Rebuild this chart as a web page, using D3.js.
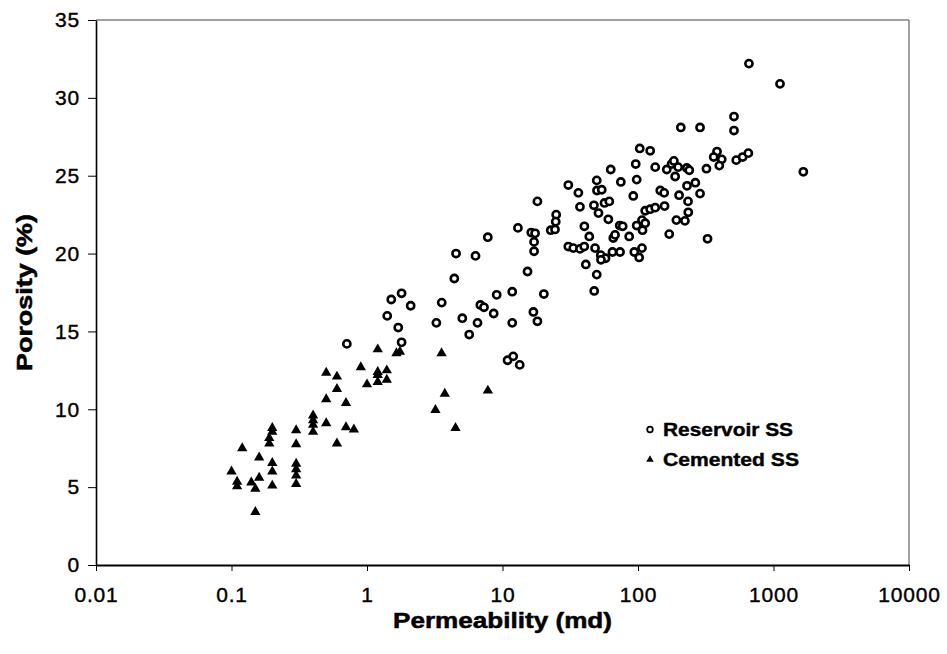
<!DOCTYPE html>
<html>
<head>
<meta charset="utf-8">
<script src="https://cdn.jsdelivr.net/npm/d3@7"></script>
<style>
  html, body { margin: 0; padding: 0; background: #fff; }
  svg { display: block; }
  text { font-family: "Liberation Sans", Arial, Helvetica, sans-serif; fill: #000; }
</style>
</head>
<body>
<svg id="chart" width="947" height="654"></svg>
<script>
// ---- data ----
const reservoirPerm = [0.71,1.41,1.51,1.80,2.10,1.70,1.80,3.25,3.56,4.41,4.54,5.05,5.68,6.32,6.54,6.86,7.30,7.79,8.61,9.06,
  10.9,11.8,11.8,12.0,13.0,13.4,15.3,16.3,17.4,17.1,17.1,16.9,18.1,18.1,20.2,22.7,24.4,24.9,24.7,30.6,
  30.6,33.3,36.3,37.3,37.3,40.1,40.2,41.2,43.7,47.3,47.5,48.2,49.6,49.6,49.8,54.0,51.1,53.1,57.6,53.3,
  56.6,61.4,60.4,62.9,64.8,65.7,67.7,73.3,77.1,73.7,74.7,86.1,92.3,93.9,96.2,97.8,97.8,102,103,107,
  123,134,108,107,113,113,123,134,157,146,156,163,177,184,188,201,192,222,170,198,
  229,239,207,287,230,265,287,234,235,320,326,383,362,415,398,531,592,652,511,511,
  659,1117,1660];
const reservoirPoro = [14.2,16.0,17.05,17.45,16.65,15.25,14.3,15.55,16.85,18.4,20.0,15.85,14.8,19.85,15.55,16.7,16.55,21.05,16.15,17.35,
  13.15,17.55,15.55,13.4,21.65,12.85,18.85,21.35,21.3,20.75,20.15,16.25,15.65,23.35,17.4,21.5,21.55,22.5,22.05,24.4,
  20.45,20.35,23.9,23.0,20.3,20.45,21.75,19.3,21.1,23.1,17.6,20.35,24.7,18.65,24.05,24.1,22.6,19.9,19.7,19.6,
  23.25,23.35,22.2,25.4,20.1,21.0,21.2,21.8,21.75,20.1,24.6,21.1,23.7,20.1,25.75,24.75,21.8,19.75,26.75,20.35,
  26.6,25.55,21.5,22.15,21.95,22.75,22.85,22.95,23.05,24.05,23.9,25.4,25.75,25.95,24.95,23.75,22.15,22.1,21.25,25.55,
  25.5,25.35,28.1,28.1,24.35,24.55,23.85,23.35,22.65,25.45,20.95,26.55,26.2,26.05,25.65,26.0,26.2,26.45,28.8,27.9,
  32.2,30.9,25.25];

const cementedPerm = [0.1,0.11,0.11,0.12,0.14,0.15,0.15,0.16,0.16,0.2,0.2,0.19,0.19,0.2,0.2,0.2,0.3,0.3,0.3,0.3,
  0.3,0.3,0.4,0.4,0.4,0.4,0.5,0.5,0.5,0.6,0.6,0.6,0.7,0.7,0.8,0.9,1.0,1.2,1.2,1.2,
  1.4,1.4,1.2,1.65,1.75,3.55,3.75,3.2,4.5,7.8];
const cementedPoro = [6.0,5.35,5.05,7.5,5.3,4.9,3.4,6.9,5.6,8.8,8.55,8.15,7.8,6.55,6.0,5.1,8.65,7.75,6.5,6.15,
  5.75,5.2,9.6,9.3,9.0,8.55,12.35,10.65,9.1,12.1,11.3,7.8,10.4,8.85,8.7,12.7,11.6,12.4,12.2,11.75,
  12.5,11.9,13.85,13.6,13.7,13.6,11.0,9.95,8.8,11.2];

const xTickValues = [0.01, 0.1, 1, 10, 100, 1000, 10000];
const xTickLabels = ["0.01", "0.1", "1", "10", "100", "1000", "10000"];
const yTickValues = [0, 5, 10, 15, 20, 25, 30, 35];
const seriesNames = ["Reservoir SS", "Cemented SS"];
const xTitle = "Permeability (md)";
const yTitle = "Porosity (%)";

// ---- layout ----
const W = 947, H = 654;
const L = 96, R = 909, T = 20, B = 565;

const svg = d3.select("#chart");
svg.append("rect").attr("width", W).attr("height", H).attr("fill", "#fff");

const x = d3.scaleLog().domain([0.01, 10000]).range([L, R]);
const y = d3.scaleLinear().domain([0, 35]).range([B, T]);

// frame (top / right thin)
svg.append("line").attr("x1", L).attr("x2", R).attr("y1", T).attr("y2", T)
  .attr("stroke", "#444").attr("stroke-width", 1);
svg.append("line").attr("x1", R).attr("x2", R).attr("y1", T).attr("y2", B)
  .attr("stroke", "#444").attr("stroke-width", 1);

// x axis
const xAxis = svg.append("g").attr("transform", `translate(0,${B})`)
  .call(d3.axisBottom(x).tickValues(xTickValues)
    .tickFormat((d, i) => xTickLabels[i]).tickSize(6).tickSizeOuter(0).tickPadding(16));
xAxis.select(".domain").attr("stroke", "#000").attr("stroke-width", 2);
xAxis.selectAll(".tick line").attr("stroke", "#000").attr("stroke-width", 1);
xAxis.selectAll("text").attr("font-size", 21).attr("letter-spacing", 0.8)
  .attr("font-family", "'Liberation Sans', Arial, sans-serif").attr("fill", "#000")
  .attr("stroke", "#000").attr("stroke-width", 0.4);

// y axis
const yAxis = svg.append("g").attr("transform", `translate(${L},0)`)
  .call(d3.axisLeft(y).tickValues(yTickValues).tickFormat(d3.format("d"))
    .tickSize(8).tickSizeOuter(0).tickPadding(8));
yAxis.select(".domain").attr("stroke", "#000").attr("stroke-width", 1.6);
yAxis.selectAll(".tick line").attr("stroke", "#000").attr("stroke-width", 1);
yAxis.selectAll("text").attr("font-size", 21).attr("letter-spacing", 0.8)
  .attr("font-family", "'Liberation Sans', Arial, sans-serif").attr("fill", "#000")
  .attr("stroke", "#000").attr("stroke-width", 0.4);

// axis titles
svg.append("text").attr("x", (L + R) / 2).attr("y", 628)
  .attr("text-anchor", "middle").attr("font-size", 22).attr("font-weight", "bold")
  .attr("stroke", "#000").attr("stroke-width", 0.5)
  .attr("textLength", 219).attr("lengthAdjust", "spacingAndGlyphs")
  .text(xTitle);
svg.append("text").attr("transform", `translate(32,${(T + B) / 2}) rotate(-90)`)
  .attr("text-anchor", "middle").attr("font-size", 22).attr("font-weight", "bold")
  .attr("stroke", "#000").attr("stroke-width", 0.5)
  .attr("textLength", 157).attr("lengthAdjust", "spacingAndGlyphs")
  .text(yTitle);

// data
const reservoir = reservoirPerm.map((k, i) => ({ k, p: reservoirPoro[i] }));
const cemented = cementedPerm.map((k, i) => ({ k, p: cementedPoro[i] }));

const tri = d3.symbol().type(d3.symbolTriangle).size(46);
svg.append("g").selectAll("path").data(cemented).join("path")
  .attr("d", tri)
  .attr("transform", d => `translate(${x(d.k)},${y(d.p)})`)
  .attr("fill", "#000");

svg.append("g").selectAll("circle").data(reservoir).join("circle")
  .attr("cx", d => x(d.k)).attr("cy", d => y(d.p)).attr("r", 3.6)
  .attr("fill", "#fff").attr("stroke", "#000").attr("stroke-width", 2.6);

// legend
const lg = svg.append("g");
lg.append("circle").attr("cx", 650).attr("cy", 429.5).attr("r", 2.8)
  .attr("fill", "#fff").attr("stroke", "#000").attr("stroke-width", 1.8);
lg.append("path").attr("d", d3.symbol().type(d3.symbolTriangle).size(24))
  .attr("transform", "translate(650,459.5)").attr("fill", "#000");
lg.append("text").attr("x", 663).attr("y", 436).attr("font-size", 18).attr("font-weight", "bold")
  .attr("stroke", "#000").attr("stroke-width", 0.4)
  .attr("textLength", 130).attr("lengthAdjust", "spacingAndGlyphs").text(seriesNames[0]);
lg.append("text").attr("x", 663).attr("y", 466).attr("font-size", 18).attr("font-weight", "bold")
  .attr("stroke", "#000").attr("stroke-width", 0.4)
  .attr("textLength", 136).attr("lengthAdjust", "spacingAndGlyphs").text(seriesNames[1]);
</script>
</body>
</html>
